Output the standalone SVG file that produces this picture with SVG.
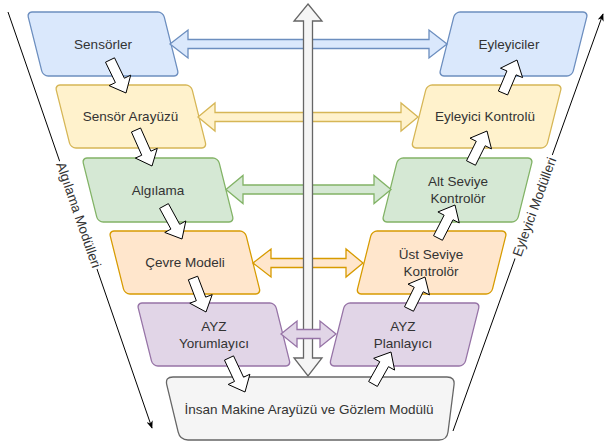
<svg xmlns="http://www.w3.org/2000/svg" width="605" height="443" viewBox="0 0 605 443">
<defs>
<style>
.lbl{font-family:"Liberation Sans",Arial,sans-serif;font-size:13.5px;fill:#333333;text-anchor:middle;dominant-baseline:central}
.blue{fill:#dae8fc;stroke:#6c8ebf;stroke-width:1.3}
.yellow{fill:#fff2cc;stroke:#d6b656;stroke-width:1.3}
.green{fill:#d5e8d4;stroke:#82b366;stroke-width:1.3}
.orange{fill:#ffe6cc;stroke:#d79b00;stroke-width:1.3}
.purple{fill:#e1d5e7;stroke:#9673a6;stroke-width:1.3}
.gray{fill:#f5f5f5;stroke:#666666;stroke-width:1.3}
.flow{fill:#ffffff;stroke:#000000;stroke-width:1;stroke-linejoin:miter}
.side{fill:none;stroke:#000000;stroke-width:1}
</style>
<marker id="classic" viewBox="0 0 10 8" refX="9" refY="4" markerWidth="8" markerHeight="6.4" orient="auto" markerUnits="userSpaceOnUse">
<path d="M0,0 L10,4 L0,8 L3,4 Z" fill="#000000"/>
</marker>
</defs>

<!-- nodes: left column -->
<g id="sensorler">
<rect class="blue" x="0" y="0" width="136" height="64" rx="5" transform="translate(27,12) skewX(14.04)"/>
<text class="lbl" x="103" y="44">Sensörler</text>
</g>
<g id="sensor-arayuzu">
<rect class="yellow" x="0" y="0" width="136" height="63" rx="5" transform="translate(55,85) skewX(14.04)"/>
<text class="lbl" x="130.5" y="116.5">Sensör Arayüzü</text>
</g>
<g id="algilama">
<rect class="green" x="0" y="0" width="136" height="64" rx="5" transform="translate(82,158) skewX(14.04)"/>
<text class="lbl" x="158" y="190">Algılama</text>
</g>
<g id="cevre-modeli">
<rect class="orange" x="0" y="0" width="136" height="63" rx="5" transform="translate(109,231) skewX(14.04)"/>
<text class="lbl" x="185" y="262.5">Çevre Modeli</text>
</g>
<g id="ayz-yorumlayici">
<rect class="purple" x="0" y="0" width="138" height="63" rx="5" transform="translate(137,303) skewX(14.04)"/>
<text class="lbl" x="214" y="326.5">AYZ</text>
<text class="lbl" x="214" y="343.5">Yorumlayıcı</text>
</g>

<!-- nodes: right column -->
<g id="eyleyiciler">
<rect class="blue" x="0" y="0" width="133" height="64" rx="5" transform="translate(455,12) skewX(-14.04)"/>
<text class="lbl" x="509" y="44">Eyleyiciler</text>
</g>
<g id="eyleyici-kontrolu">
<rect class="yellow" x="0" y="0" width="135" height="63" rx="5" transform="translate(427,85) skewX(-14.04)"/>
<text class="lbl" x="485" y="116.5">Eyleyici Kontrolü</text>
</g>
<g id="alt-seviye">
<rect class="green" x="0" y="0" width="135" height="64" rx="5" transform="translate(398,158) skewX(-14.04)"/>
<text class="lbl" x="458" y="181.5">Alt Seviye</text>
<text class="lbl" x="458" y="198.5">Kontrolör</text>
</g>
<g id="ust-seviye">
<rect class="orange" x="0" y="0" width="135" height="63" rx="5" transform="translate(372,231) skewX(-14.04)"/>
<text class="lbl" x="431" y="254">Üst Seviye</text>
<text class="lbl" x="431" y="271">Kontrolör</text>
</g>
<g id="ayz-planlayici">
<rect class="purple" x="0" y="0" width="135" height="63" rx="5" transform="translate(345,303) skewX(-14.04)"/>
<text class="lbl" x="403" y="326.5">AYZ</text>
<text class="lbl" x="403" y="343.5">Planlayıcı</text>
</g>

<!-- bottom node -->
<g id="insan-makine">
<path class="gray" d="M173,377 L447,377 Q455,377 454,385 L448,432 Q447,440 439,440 L188,440 Q180,440 178.2,432.2 L166.8,384.8 Q165,377 173,377 Z"/>
<text class="lbl" x="309" y="409">İnsan Makine Arayüzü ve Gözlem Modülü</text>
</g>

<g id="connectors">
<!-- side lines -->
<line class="side" x1="8" y1="12" x2="152" y2="428" marker-end="url(#classic)"/>
<line class="side" x1="453" y1="431" x2="603" y2="14" marker-end="url(#classic)"/>
<g transform="translate(78.5,215) rotate(70.9)">
<rect x="-57" y="-9" width="114" height="18" fill="#ffffff"/>
<text class="lbl" x="0" y="0">Algılama Modülleri</text>
</g>
<g transform="translate(534.5,207) rotate(-70.1)">
<rect x="-55" y="-9" width="110" height="18" fill="#ffffff"/>
<text class="lbl" x="0" y="0">Eyleyici Modülleri</text>
</g>

<!-- horizontal double block arrows -->
<polygon class="blue" points="170,44 188,30 188,39.5 429,39.5 429,30 447,44 429,58 429,48.5 188,48.5 188,58"/>
<polygon class="yellow" points="198,117 215,103 215,112.5 401,112.5 401,103 418,117 401,131 401,121.5 215,121.5 215,131"/>
<polygon class="green" points="226,189.5 243,175.5 243,185 374,185 374,175.5 391,189.5 374,203.5 374,194 243,194 243,203.5"/>
<polygon class="orange" points="253,263 271,249 271,258.5 346,258.5 346,249 363,263 346,277 346,267.5 271,267.5 271,277"/>

<!-- vertical gray double arrow -->
<polygon class="gray" points="308,4 322,21 312.5,21 312.5,358 322,358 308,376 294,358 303.5,358 303.5,21 294,21"/>

<polygon class="purple" points="281,334 297,321 297,329.5 320,329.5 320,321 336,334 320,347 320,338.5 297,338.5 297,347"/>

<!-- flow arrows left chain -->
<polygon class="flow" points="105.50,62.18 115.39,82.58 109.09,85.64 126,93 130.69,75.16 124.39,78.22 114.50,57.82"/>
<polygon class="flow" points="131.43,132.03 141.74,155.24 135.34,158.08 152,166 157.28,148.34 150.88,151.18 140.57,127.97"/>
<polygon class="flow" points="159.61,208.39 170.91,229.10 164.77,232.46 182,239 185.83,220.96 179.69,224.32 168.39,203.61"/>
<polygon class="flow" points="188.33,279.79 196.33,300.71 189.79,303.21 206,312 212.21,294.63 205.67,297.13 197.67,276.21"/>
<polygon class="flow" points="224.48,360.13 234.52,381.46 228.18,384.44 245,392 249.90,374.22 243.56,377.20 233.52,355.87"/>

<!-- flow arrows right chain -->
<polygon class="flow" points="377.36,386.45 388.50,366.65 394.60,370.08 391,352 373.68,358.32 379.78,361.75 368.64,381.55"/>
<polygon class="flow" points="413.47,311.24 423.21,291.76 429.47,294.89 425,277 408.01,284.15 414.27,287.28 404.53,306.76"/>
<polygon class="flow" points="442.45,240.29 453.04,219.74 459.26,222.95 455,205 437.92,211.95 444.14,215.16 433.55,235.71"/>
<polygon class="flow" points="475.47,165.24 485.21,145.76 491.47,148.89 487,131 470.01,138.15 476.27,141.28 466.53,160.76"/>
<polygon class="flow" points="507.60,94.95 516.13,74.84 522.58,77.58 517,60 500.48,68.20 506.93,70.94 498.40,91.05"/>
</g>
</svg>
